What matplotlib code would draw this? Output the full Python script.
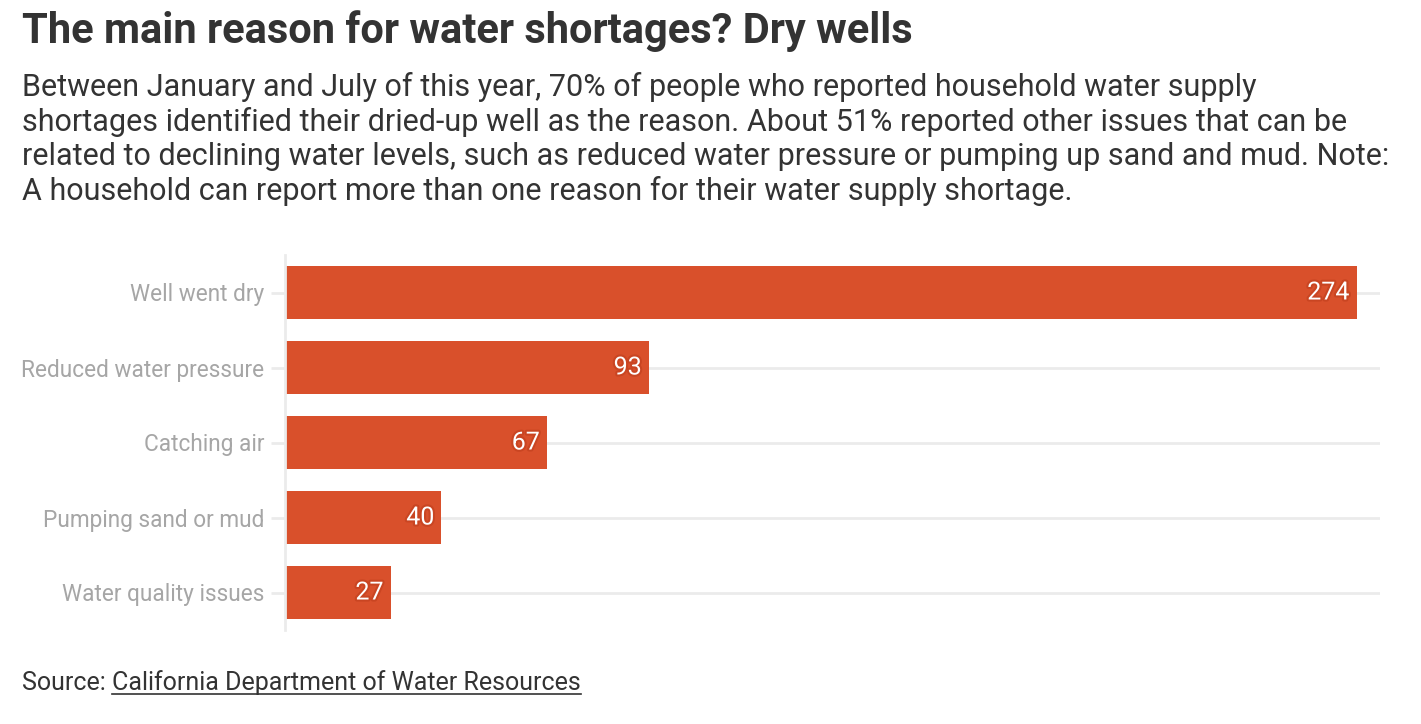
import matplotlib as mpl
mpl.use('Agg')
import matplotlib.pyplot as plt
import matplotlib.patheffects as pe

plt.rcParams['font.family'] = ['Roboto', 'DejaVu Sans']

# data
reasons = ["Well went dry", "Reduced water pressure", "Catching air",
           "Pumping sand or mud", "Water quality issues"]
counts = [274, 93, 67, 40, 27]

TITLE = "The main reason for water shortages? Dry wells"
SUBTITLE = ("Between January and July of this year, 70% of people who reported household water supply\n"
            "shortages identified their dried-up well as the reason. About 51% reported other issues that can be\n"
            "related to declining water levels, such as reduced water pressure or pumping up sand and mud. Note:\n"
            "A household can report more than one reason for their water supply shortage.")

BAR_COLOR = "#d9502b"
GRID_COLOR = "#ebebeb"
TEXT_COLOR = "#333333"
LABEL_COLOR = "#a6a6a6"

W, H = 1421, 724
fig = plt.figure(figsize=(W / 100, H / 100), dpi=100)
ax = fig.add_axes([285 / W, 1 - 630 / H, (1380 - 285) / W, (630 - 255) / H])

ypos = list(range(len(reasons)))
for y in ypos:
    ax.axhline(y, color=GRID_COLOR, lw=2, zorder=0)
ax.barh(ypos, counts, height=0.7, color=BAR_COLOR, zorder=2)

for y, v in zip(ypos, counts):
    ax.text(v - 1.8, y, str(v), ha='right', va='center', color='white', fontsize=18,
            zorder=3, path_effects=[pe.withStroke(linewidth=3, foreground="#c94522")])

ax.set_xlim(0, 280)
ax.set_ylim(4.5, -0.5)
ax.set_yticks(ypos)
ax.set_yticklabels(reasons)
ax.set_xticks([])
ax.tick_params(axis='y', length=10, width=2, color=GRID_COLOR, pad=5,
               labelsize=16.3, labelcolor=LABEL_COLOR)
for side in ['top', 'right', 'bottom']:
    ax.spines[side].set_visible(False)
ax.spines['left'].set_color(GRID_COLOR)
ax.spines['left'].set_linewidth(2)

fig.text(22 / W, 1 - 31 / H, TITLE, fontsize=30, fontweight='bold', color=TEXT_COLOR,
         ha='left', va='center')
fig.text(22 / W, 1 - 72 / H, SUBTITLE, fontsize=22, color=TEXT_COLOR, ha='left', va='top',
         linespacing=1.21)

src = fig.text(22 / W, 1 - 683 / H, "Source: ", fontsize=18, color=TEXT_COLOR,
               ha='left', va='center')
fig.canvas.draw()
bb = src.get_window_extent()
link = fig.text(bb.x1 / W, 1 - 683 / H, "California Department of Water Resources", fontsize=18,
                color=TEXT_COLOR, ha='left', va='center')
fig.canvas.draw()
lb = link.get_window_extent()
fig.add_artist(plt.Line2D([lb.x0 / W, lb.x1 / W], [(lb.y0 + 1) / H, (lb.y0 + 1) / H],
                          color=TEXT_COLOR, lw=1.2))

fig.savefig("out.png", dpi=100)
